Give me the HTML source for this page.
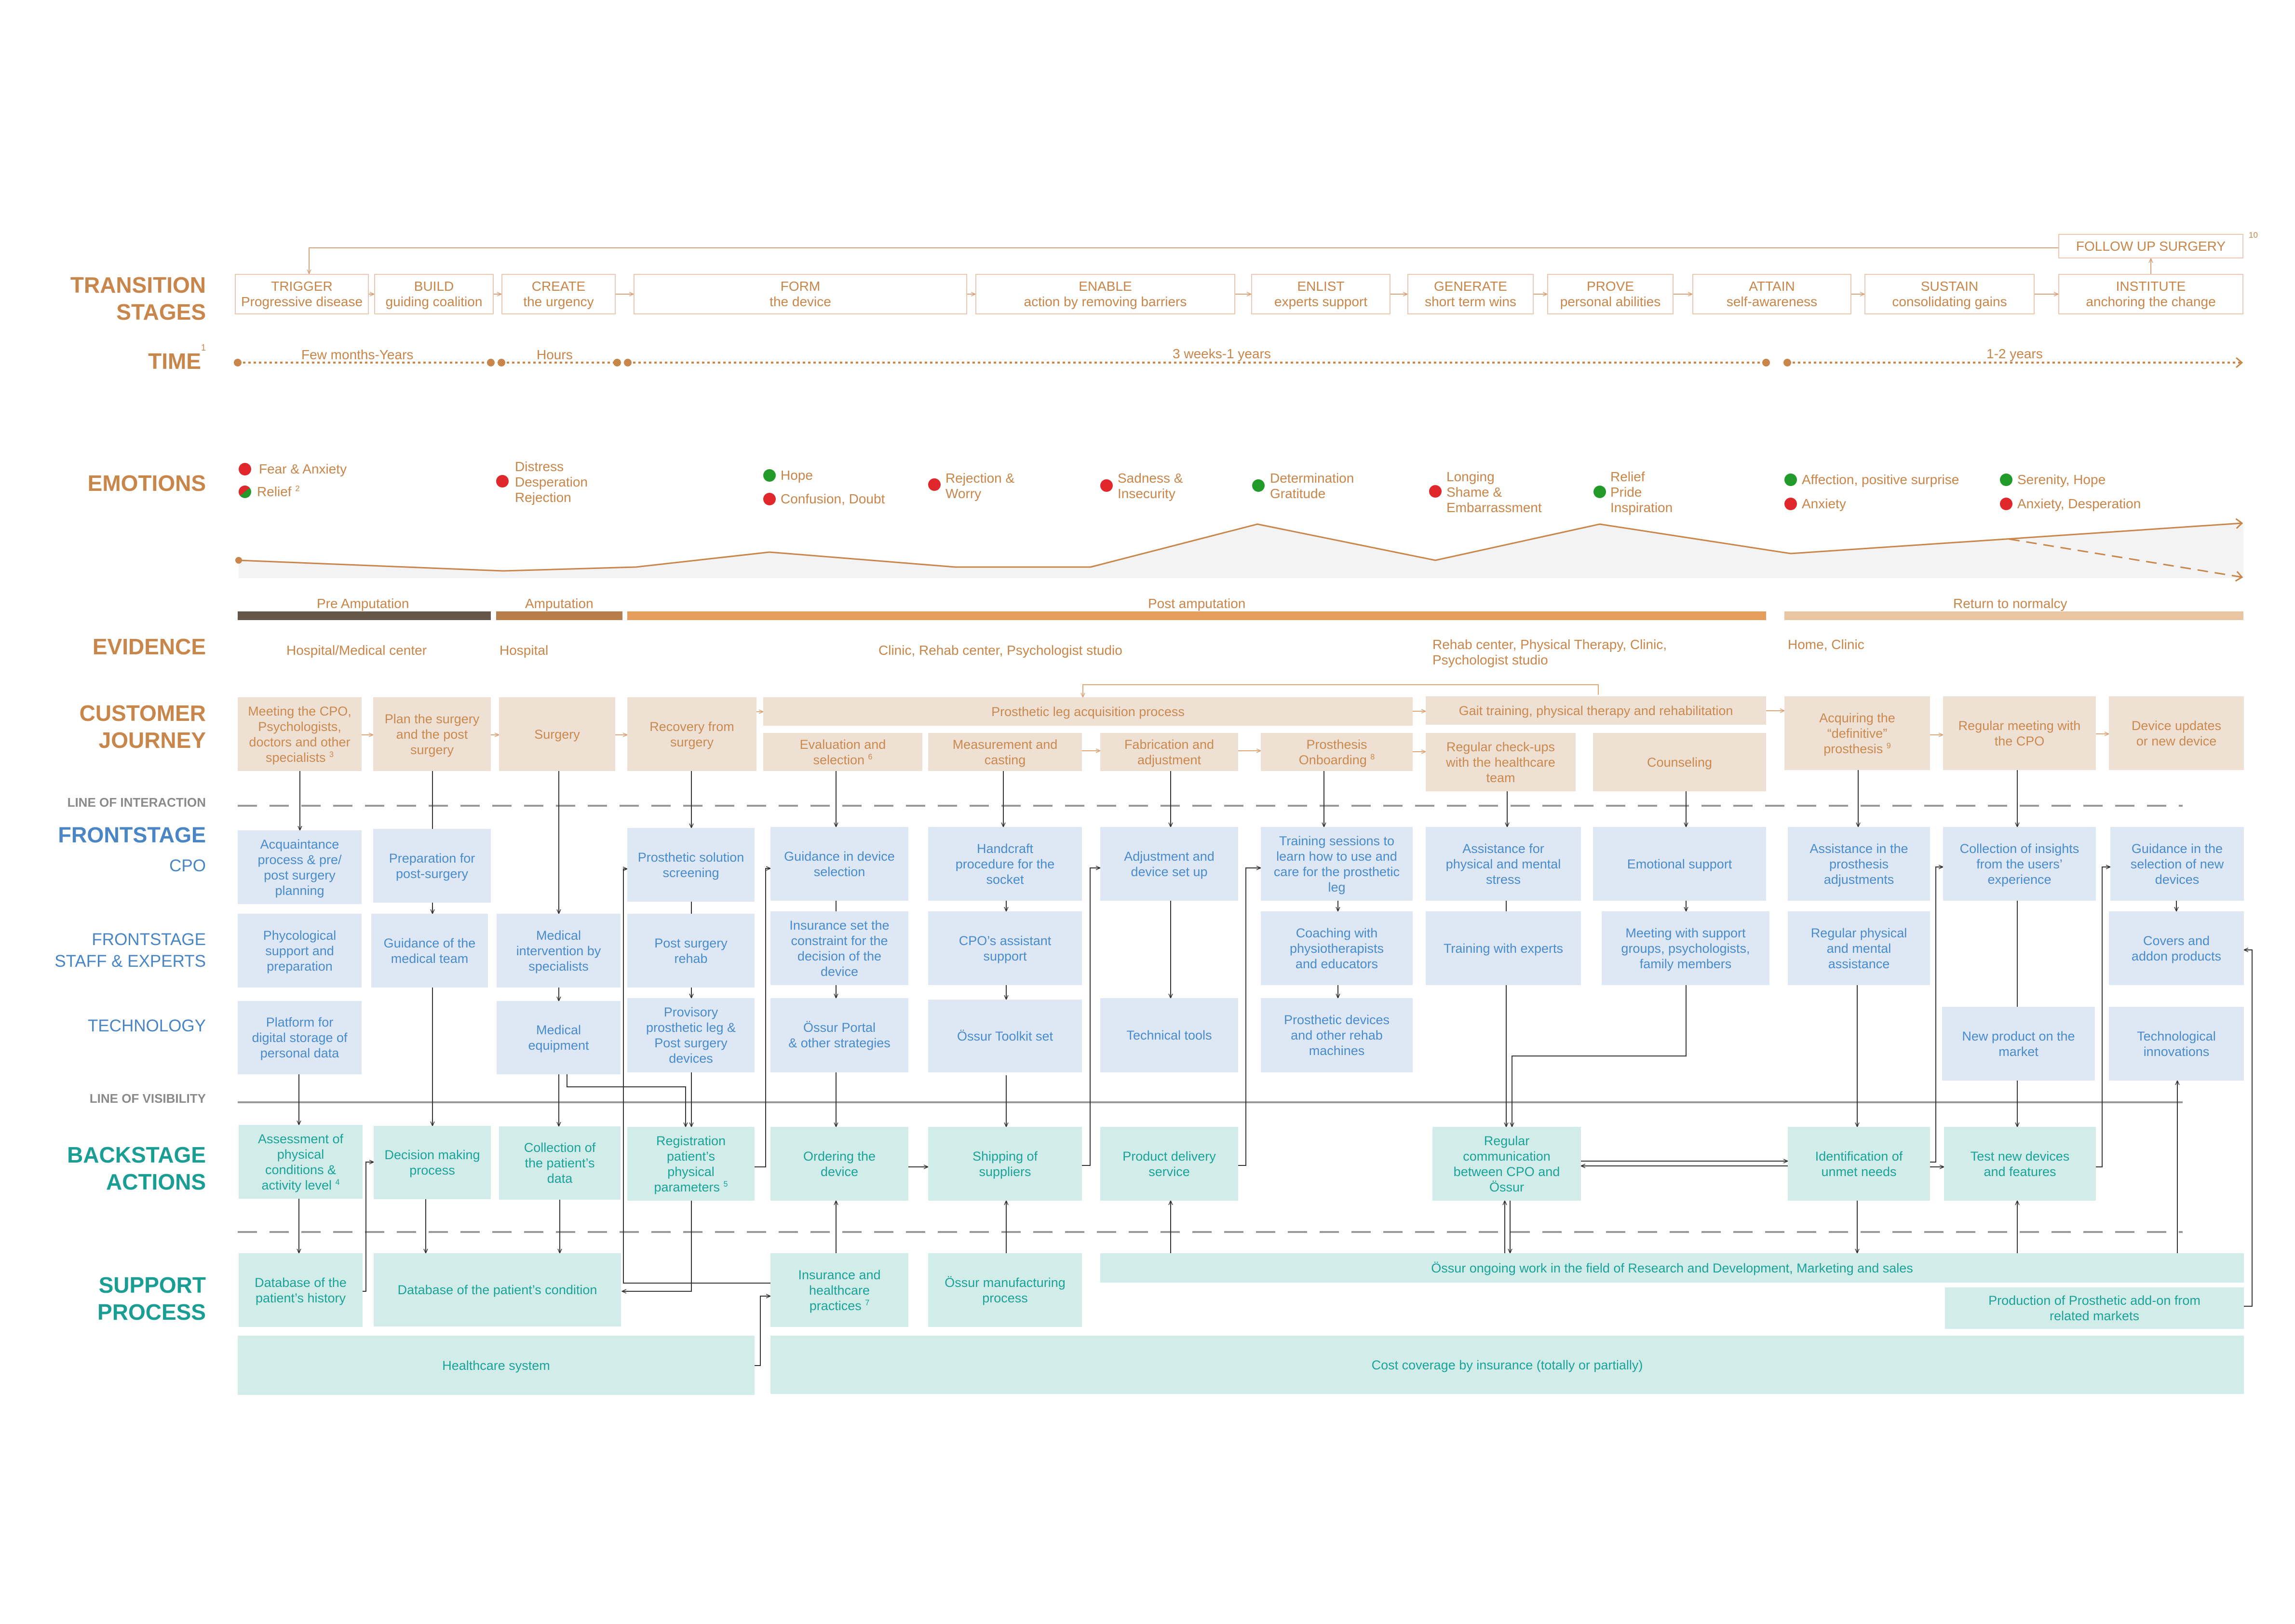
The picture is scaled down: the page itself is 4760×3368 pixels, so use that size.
<!DOCTYPE html>
<html><head><meta charset="utf-8">
<style>
*{margin:0;padding:0;box-sizing:border-box}
body{width:4760px;height:3368px;background:#fff;position:relative;overflow:hidden;font-family:"Liberation Sans",sans-serif}
.b{position:absolute;display:flex;align-items:center;justify-content:center;text-align:center;font-size:27px;line-height:32px;padding:4px 8px}
.j{background:#efe0d4;color:#c98a50}
.f{background:#dde8f4;color:#4a8bcb}
.t{background:#d2ecea;color:#1ba398}
.tr{position:absolute;border:2px solid #ecc9ae;background:#fff;color:#c8864b;font-size:28px;line-height:32px;text-align:center;display:flex;align-items:center;justify-content:center;top:568px;height:84px}
.lab{position:absolute;right:4333px;text-align:right;white-space:nowrap}
.h1o{color:#c8864b;font-weight:bold;font-size:46px;line-height:56px}
.h1b{color:#4a86c5;font-weight:bold;font-size:45px;line-height:54px}
.h1t{color:#1a9e94;font-weight:bold;font-size:46px;line-height:56px}
.sm{color:#8a8a8a;font-weight:bold;font-size:26px;line-height:30px}
.lb{color:#4a86c5;font-size:35px;line-height:45px}
.tx{position:absolute;color:#c8864b;font-size:28px;line-height:32px;white-space:nowrap}
sup{font-size:60%;line-height:0;vertical-align:super}
svg{position:absolute;left:0;top:0}
</style></head><body>
<svg width="4760" height="3368" viewBox="0 0 4760 3368">
<defs>
<marker id="a" markerWidth="10" markerHeight="10" refX="9" refY="5" orient="auto" markerUnits="userSpaceOnUse"><path d="M0,1 L9,5 L0,9" fill="none" stroke="#333" stroke-width="1.5"/></marker>
<marker id="o" markerWidth="10" markerHeight="10" refX="9" refY="5" orient="auto" markerUnits="userSpaceOnUse"><path d="M0,1 L9,5 L0,9" fill="none" stroke="#d9a27a" stroke-width="1.5"/></marker>
<marker id="c" markerWidth="20" markerHeight="24" refX="14" refY="12" orient="auto" markerUnits="userSpaceOnUse"><path d="M2,2 L14,12 L2,22" fill="none" stroke="#c8864b" stroke-width="3"/></marker>
</defs>
<polygon points="495,1162 1043,1184 1319,1176 1596,1145 1981,1176 2262,1176 2608,1087 2977,1162 3318,1087 3714,1148 4653,1085 4653,1199 495,1199" fill="#f3f3f3"/>
<polyline points="495,1162 1043,1184 1319,1176 1596,1145 1981,1176 2262,1176 2608,1087 2977,1162 3318,1087 3714,1148 4650,1085" fill="none" stroke="#c8864b" stroke-width="3" marker-end="url(#c)"/>
<path d="M4167,1118 L4650,1197" fill="none" stroke="#c8864b" stroke-width="3" stroke-dasharray="22 14" marker-end="url(#c)"/>
<circle cx="495" cy="1162" r="7" fill="#c8864b"/>
<rect x="493" y="1268" width="525" height="18" fill="#65564a"/>
<rect x="1029" y="1268" width="262" height="18" fill="#b87d49"/>
<rect x="1301" y="1268" width="2362" height="18" fill="#e59d5c"/>
<rect x="3701" y="1268" width="952" height="18" fill="#e9c5a1"/>
<g stroke="#c8864b" stroke-width="4" stroke-dasharray="5 6" fill="none">
<path d="M493,752 H1018"/><path d="M1040,752 H1280"/><path d="M1302,752 H3663"/><path d="M3707,752 H4650" marker-end="url(#c)"/>
</g>
<g fill="#c8864b"><circle cx="493" cy="752" r="8"/><circle cx="1018" cy="752" r="8"/><circle cx="1040" cy="752" r="8"/><circle cx="1280" cy="752" r="8"/><circle cx="1302" cy="752" r="8"/><circle cx="3663" cy="752" r="8"/><circle cx="3707" cy="752" r="8"/></g>
<g stroke="#d9a27a" stroke-width="2" fill="none" marker-end="url(#o)">
<path d="M4269,514 H641 V568"/>
<path d="M765,610 H776"/><path d="M1024,610 H1040"/><path d="M1277,610 H1314"/><path d="M2006,610 H2023"/><path d="M2562,610 H2595"/><path d="M2884,610 H2919"/><path d="M3181,610 H3209"/><path d="M3471,610 H3510"/><path d="M3840,610 H3867"/><path d="M4220,610 H4269"/><path d="M4461,568 V536"/>
</g>
<g>
<circle cx="508" cy="973" r="13" fill="#e0272b"/>
<circle cx="508" cy="1020" r="13" fill="#229a2a"/>
<path d="M495,1020 A13,13 0 0 1 508,1007 A13,13 0 0 1 521,1020 Z" fill="#e0272b" transform="rotate(-40 508 1020)"/>
<circle cx="1042" cy="998" r="13" fill="#e0272b"/>
<circle cx="1596" cy="986" r="13" fill="#229a2a"/><circle cx="1596" cy="1035" r="13" fill="#e0272b"/>
<circle cx="1938" cy="1005" r="13" fill="#e0272b"/>
<circle cx="2295" cy="1007" r="13" fill="#e0272b"/>
<circle cx="2610" cy="1007" r="13" fill="#229a2a"/>
<circle cx="2977" cy="1019" r="13" fill="#e0272b"/>
<circle cx="3318" cy="1020" r="13" fill="#229a2a"/>
<circle cx="3714" cy="995" r="13" fill="#229a2a"/><circle cx="3714" cy="1045" r="13" fill="#e0272b"/>
<circle cx="4161" cy="995" r="13" fill="#229a2a"/><circle cx="4161" cy="1045" r="13" fill="#e0272b"/>
</g>
<g stroke="#9a9a9a" stroke-width="4" fill="none">
<path d="M493,1671 H4527" stroke-dasharray="40 26"/>
<path d="M493,2555 H4527" stroke-dasharray="40 26"/>
<path d="M493,2286 H4527"/>
</g>
<g stroke="#e3a676" stroke-width="2" fill="none" marker-end="url(#o)">
<path d="M750,1524 H774"/><path d="M1018,1524 H1035"/><path d="M1276,1524 H1301"/><path d="M1569,1476 H1583"/><path d="M2930,1475 H2957"/><path d="M2930,1559 H2957"/><path d="M2244,1557 H2282"/><path d="M2568,1557 H2615"/><path d="M3663,1474 H3701"/><path d="M4003,1524 H4030"/><path d="M4347,1522 H4374"/><path d="M3315,1441 V1420 H2246 V1446"/>
</g>
<g stroke="#333" stroke-width="2" fill="none">
<path d="M897,1599 V1719"/><path d="M1434,1870 V1895"/><path d="M1734,1868 V1890"/><path d="M2428,1868 V2070"/><path d="M3124,1868 V1890"/><path d="M4184,1868 V2088"/>
</g>
<g stroke="#333" stroke-width="2" fill="none" marker-end="url(#a)">
<path d="M622,1599 V1722"/><path d="M620,2228 V2333"/><path d="M620,2486 V2599"/>
<path d="M897,1872 V1895"/><path d="M897,2048 V2335"/><path d="M883,2487 V2599"/>
<path d="M1159,1599 V1895"/><path d="M1159,2048 V2076"/><path d="M1159,2228 V2336"/><path d="M1161,2488 V2599"/>
<path d="M1176,2228 V2254 H1422 V2337"/>
<path d="M1434,1599 V1717"/><path d="M1434,2048 V2070"/><path d="M1434,2224 V2337"/>
<path d="M1434,2490 V2678 H1290"/>
<path d="M1598,2661 H1293 V1802 H1301"/>
<path d="M752,2678 H759 V2410 H775"/>
<path d="M1565,2832 H1577 V2688 H1598"/>
<path d="M1565,2420 H1588 V1801 H1598"/>
<path d="M1734,1599 V1715"/><path d="M1734,2043 V2070"/><path d="M1734,2224 V2337"/><path d="M1734,2599 V2490"/>
<path d="M1884,2420 H1925"/>
<path d="M2081,1599 V1715"/><path d="M2087,1868 V1890"/><path d="M2087,2043 V2073"/><path d="M2087,2230 V2337"/><path d="M2087,2599 V2490"/>
<path d="M2244,2417 H2261 V1800 H2282"/>
<path d="M2428,1599 V1715"/><path d="M2428,1868 V2070"/><path d="M2428,2599 V2490"/>
<path d="M2568,2417 H2584 V1800 H2615"/>
<path d="M2746,1599 V1715"/><path d="M2775,1868 V1890"/><path d="M2775,2043 V2070"/>
<path d="M3126,1641 V1715"/><path d="M3124,2043 V2337"/>
<path d="M3497,2043 V2190 H3136 V2337"/>
<path d="M3121,2599 V2490"/><path d="M3132,2490 V2599"/>
<path d="M3497,1641 V1715"/><path d="M3497,1868 V1890"/>
<path d="M3279,2408 H3708"/><path d="M3708,2418 H3279"/>
<path d="M3854,1597 V1715"/><path d="M3852,2043 V2337"/><path d="M3852,2490 V2599"/>
<path d="M4003,2420 H4032"/><path d="M4003,2410 H4015 V1798 H4030"/>
<path d="M4184,1597 V1715"/><path d="M4184,2241 V2337"/><path d="M4184,2599 V2490"/>
<path d="M4347,2420 H4360 V1798 H4377"/>
<path d="M4514,1868 V1890"/><path d="M4516,2599 V2241"/>
<path d="M4654,2709 H4671 V1970 H4654"/>
</g>
</svg>

<div class="lab h1o" style="top:563px">TRANSITION<br>STAGES</div>
<div class="lab h1o" style="top:721px">TIME<sup style="font-size:18px;font-weight:normal;vertical-align:top">1</sup></div>
<div class="lab h1o" style="top:974px">EMOTIONS</div>
<div class="lab h1o" style="top:1313px">EVIDENCE</div>
<div class="lab h1o" style="top:1451px">CUSTOMER<br>JOURNEY</div>
<div class="lab sm" style="top:1649px">LINE OF INTERACTION</div>
<div class="lab h1b" style="top:1705px">FRONTSTAGE</div>
<div class="lab lb" style="top:1773px">CPO</div>
<div class="lab lb" style="top:1926px">FRONTSTAGE<br>STAFF &amp; EXPERTS</div>
<div class="lab lb" style="top:2105px">TECHNOLOGY</div>
<div class="lab sm" style="top:2263px">LINE OF VISIBILITY</div>
<div class="lab h1t" style="top:2367px">BACKSTAGE<br>ACTIONS</div>
<div class="lab h1t" style="top:2637px">SUPPORT<br>PROCESS</div>

<div class="tr" style="left:487px;width:278px">TRIGGER<br>Progressive disease</div>
<div class="tr" style="left:776px;width:248px">BUILD<br>guiding coalition</div>
<div class="tr" style="left:1040px;width:237px">CREATE<br>the urgency</div>
<div class="tr" style="left:1314px;width:692px">FORM<br>the device</div>
<div class="tr" style="left:2023px;width:539px">ENABLE<br>action by removing barriers</div>
<div class="tr" style="left:2595px;width:289px">ENLIST<br>experts support</div>
<div class="tr" style="left:2919px;width:262px">GENERATE<br>short term wins</div>
<div class="tr" style="left:3209px;width:262px">PROVE<br>personal abilities</div>
<div class="tr" style="left:3510px;width:330px">ATTAIN<br>self-awareness</div>
<div class="tr" style="left:3867px;width:353px">SUSTAIN<br>consolidating gains</div>
<div class="tr" style="left:4269px;width:384px">INSTITUTE<br>anchoring the change</div>
<div class="tr" style="left:4269px;width:384px;top:485px;height:51px">FOLLOW UP SURGERY</div>
<div class="tx" style="left:4664px;top:472px;font-size:17px">10</div>

<div class="tx" style="left:625px;top:720px">Few months-Years</div>
<div class="tx" style="left:1113px;top:720px">Hours</div>
<div class="tx" style="left:2432px;top:718px">3 weeks-1 years</div>
<div class="tx" style="left:4120px;top:718px">1-2 years</div>

<div class="tx" style="left:537px;top:957px">Fear &amp; Anxiety</div>
<div class="tx" style="left:533px;top:1004px">Relief <sup>2</sup></div>
<div class="tx" style="left:1068px;top:952px">Distress<br>Desperation<br>Rejection</div>
<div class="tx" style="left:1619px;top:970px">Hope</div>
<div class="tx" style="left:1619px;top:1019px">Confusion, Doubt</div>
<div class="tx" style="left:1961px;top:976px">Rejection &amp;<br>Worry</div>
<div class="tx" style="left:2318px;top:976px">Sadness &amp;<br>Insecurity</div>
<div class="tx" style="left:2634px;top:976px">Determination<br>Gratitude</div>
<div class="tx" style="left:3000px;top:973px">Longing<br>Shame &amp;<br>Embarrassment</div>
<div class="tx" style="left:3340px;top:973px">Relief<br>Pride<br>Inspiration</div>
<div class="tx" style="left:3737px;top:979px">Affection, positive surprise</div>
<div class="tx" style="left:3737px;top:1029px">Anxiety</div>
<div class="tx" style="left:4184px;top:979px">Serenity, Hope</div>
<div class="tx" style="left:4184px;top:1029px">Anxiety, Desperation</div>

<div class="tx" style="left:657px;top:1236px">Pre Amputation</div>
<div class="tx" style="left:1089px;top:1236px">Amputation</div>
<div class="tx" style="left:2381px;top:1236px">Post amputation</div>
<div class="tx" style="left:4051px;top:1236px">Return to normalcy</div>

<div class="tx" style="left:594px;top:1333px">Hospital/Medical center</div>
<div class="tx" style="left:1036px;top:1333px">Hospital</div>
<div class="tx" style="left:1822px;top:1333px">Clinic, Rehab center, Psychologist studio</div>
<div class="tx" style="left:2971px;top:1321px">Rehab center, Physical Therapy, Clinic,<br>Psychologist studio</div>
<div class="tx" style="left:3708px;top:1321px">Home, Clinic</div>

<div class="b j" style="left:493px;top:1446px;width:257px;height:153px"><span>Meeting the CPO,<br>Psychologists,<br>doctors and other<br>specialists <sup>3</sup></span></div>
<div class="b j" style="left:774px;top:1446px;width:244px;height:153px">Plan the surgery<br>and the post<br>surgery</div>
<div class="b j" style="left:1035px;top:1446px;width:241px;height:153px">Surgery</div>
<div class="b j" style="left:1301px;top:1446px;width:268px;height:153px">Recovery from<br>surgery</div>
<div class="b j" style="left:1583px;top:1446px;width:1347px;height:59px">Prosthetic leg acquisition process</div>
<div class="b j" style="left:1583px;top:1520px;width:330px;height:79px"><span>Evaluation and<br>selection <sup>6</sup></span></div>
<div class="b j" style="left:1925px;top:1520px;width:319px;height:79px">Measurement and<br>casting</div>
<div class="b j" style="left:2282px;top:1520px;width:286px;height:79px">Fabrication and<br>adjustment</div>
<div class="b j" style="left:2615px;top:1520px;width:315px;height:79px"><span>Prosthesis<br>Onboarding <sup>8</sup></span></div>
<div class="b j" style="left:2957px;top:1444px;width:706px;height:59px">Gait training, physical therapy and rehabilitation</div>
<div class="b j" style="left:2957px;top:1520px;width:311px;height:121px">Regular check-ups<br>with the healthcare<br>team</div>
<div class="b j" style="left:3304px;top:1520px;width:359px;height:121px">Counseling</div>
<div class="b j" style="left:3701px;top:1444px;width:302px;height:153px"><span>Acquiring the<br>“definitive”<br>prosthesis <sup>9</sup></span></div>
<div class="b j" style="left:4030px;top:1444px;width:317px;height:153px">Regular meeting with<br>the CPO</div>
<div class="b j" style="left:4374px;top:1444px;width:280px;height:153px">Device updates<br>or new device</div>

<div class="b f" style="left:493px;top:1722px;width:257px;height:153px">Acquaintance<br>process &amp; pre/<br>post surgery<br>planning</div>
<div class="b f" style="left:774px;top:1719px;width:244px;height:153px">Preparation for<br>post-surgery</div>
<div class="b f" style="left:1301px;top:1717px;width:264px;height:153px">Prosthetic solution<br>screening</div>
<div class="b f" style="left:1598px;top:1715px;width:286px;height:153px">Guidance in device<br>selection</div>
<div class="b f" style="left:1925px;top:1715px;width:319px;height:153px">Handcraft<br>procedure for the<br>socket</div>
<div class="b f" style="left:2282px;top:1715px;width:286px;height:153px">Adjustment and<br>device set up</div>
<div class="b f" style="left:2615px;top:1715px;width:315px;height:153px">Training sessions to<br>learn how to use and<br>care for the prosthetic<br>leg</div>
<div class="b f" style="left:2957px;top:1715px;width:322px;height:153px">Assistance for<br>physical and mental<br>stress</div>
<div class="b f" style="left:3304px;top:1715px;width:359px;height:153px">Emotional support</div>
<div class="b f" style="left:3708px;top:1715px;width:295px;height:153px">Assistance in the<br>prosthesis<br>adjustments</div>
<div class="b f" style="left:4030px;top:1715px;width:317px;height:153px">Collection of insights<br>from the users’<br>experience</div>
<div class="b f" style="left:4377px;top:1715px;width:277px;height:153px">Guidance in the<br>selection of new<br>devices</div>

<div class="b f" style="left:493px;top:1895px;width:257px;height:153px">Phycological<br>support and<br>preparation</div>
<div class="b f" style="left:770px;top:1895px;width:242px;height:153px">Guidance of the<br>medical team</div>
<div class="b f" style="left:1030px;top:1895px;width:257px;height:153px">Medical<br>intervention by<br>specialists</div>
<div class="b f" style="left:1301px;top:1895px;width:264px;height:153px">Post surgery<br>rehab</div>
<div class="b f" style="left:1598px;top:1890px;width:286px;height:153px">Insurance set the<br>constraint for the<br>decision of the<br>device</div>
<div class="b f" style="left:1925px;top:1890px;width:319px;height:153px">CPO’s assistant<br>support</div>
<div class="b f" style="left:2615px;top:1890px;width:315px;height:153px">Coaching with<br>physiotherapists<br>and educators</div>
<div class="b f" style="left:2957px;top:1890px;width:322px;height:153px">Training with experts</div>
<div class="b f" style="left:3322px;top:1890px;width:348px;height:153px">Meeting with support<br>groups, psychologists,<br>family members</div>
<div class="b f" style="left:3708px;top:1890px;width:295px;height:153px">Regular physical<br>and mental<br>assistance</div>
<div class="b f" style="left:4374px;top:1890px;width:280px;height:153px">Covers and<br>addon products</div>

<div class="b f" style="left:493px;top:2076px;width:257px;height:152px">Platform for<br>digital storage of<br>personal data</div>
<div class="b f" style="left:1030px;top:2076px;width:257px;height:152px">Medical<br>equipment</div>
<div class="b f" style="left:1301px;top:2070px;width:264px;height:154px">Provisory<br>prosthetic leg &amp;<br>Post surgery<br>devices</div>
<div class="b f" style="left:1598px;top:2070px;width:286px;height:154px">Össur Portal<br>&amp; other strategies</div>
<div class="b f" style="left:1925px;top:2073px;width:319px;height:151px">Össur Toolkit set</div>
<div class="b f" style="left:2282px;top:2070px;width:286px;height:154px">Technical tools</div>
<div class="b f" style="left:2615px;top:2070px;width:315px;height:154px">Prosthetic devices<br>and other rehab<br>machines</div>
<div class="b f" style="left:4028px;top:2088px;width:317px;height:153px">New product on the<br>market</div>
<div class="b f" style="left:4374px;top:2088px;width:280px;height:153px">Technological<br>innovations</div>

<div class="b t" style="left:495px;top:2333px;width:257px;height:153px"><span>Assessment of<br>physical<br>conditions &amp;<br>activity level <sup>4</sup></span></div>
<div class="b t" style="left:775px;top:2335px;width:243px;height:152px">Decision making<br>process</div>
<div class="b t" style="left:1035px;top:2336px;width:252px;height:152px">Collection of<br>the patient’s<br>data</div>
<div class="b t" style="left:1301px;top:2337px;width:264px;height:153px"><span>Registration<br>patient’s<br>physical<br>parameters <sup>5</sup></span></div>
<div class="b t" style="left:1598px;top:2337px;width:286px;height:153px">Ordering the<br>device</div>
<div class="b t" style="left:1925px;top:2337px;width:319px;height:153px">Shipping of<br>suppliers</div>
<div class="b t" style="left:2282px;top:2337px;width:286px;height:153px">Product delivery<br>service</div>
<div class="b t" style="left:2971px;top:2337px;width:308px;height:153px">Regular<br>communication<br>between CPO and<br>Össur</div>
<div class="b t" style="left:3708px;top:2337px;width:295px;height:153px">Identification of<br>unmet needs</div>
<div class="b t" style="left:4032px;top:2337px;width:315px;height:153px">Test new devices<br>and features</div>

<div class="b t" style="left:495px;top:2599px;width:257px;height:153px">Database of the<br>patient’s history</div>
<div class="b t" style="left:775px;top:2599px;width:513px;height:152px">Database of the patient’s condition</div>
<div class="b t" style="left:1598px;top:2599px;width:286px;height:153px"><span>Insurance and<br>healthcare<br>practices <sup>7</sup></span></div>
<div class="b t" style="left:1925px;top:2599px;width:319px;height:153px">Össur manufacturing<br>process</div>
<div class="b t" style="left:2282px;top:2599px;width:2372px;height:61px">Össur ongoing work in the field of Research and Development, Marketing and sales</div>
<div class="b t" style="left:4034px;top:2670px;width:620px;height:86px">Production of Prosthetic add-on from<br>related markets</div>
<div class="b t" style="left:493px;top:2770px;width:1072px;height:123px">Healthcare system</div>
<div class="b t" style="left:1598px;top:2770px;width:3056px;height:121px">Cost coverage by insurance (totally or partially)</div>
</body></html>
